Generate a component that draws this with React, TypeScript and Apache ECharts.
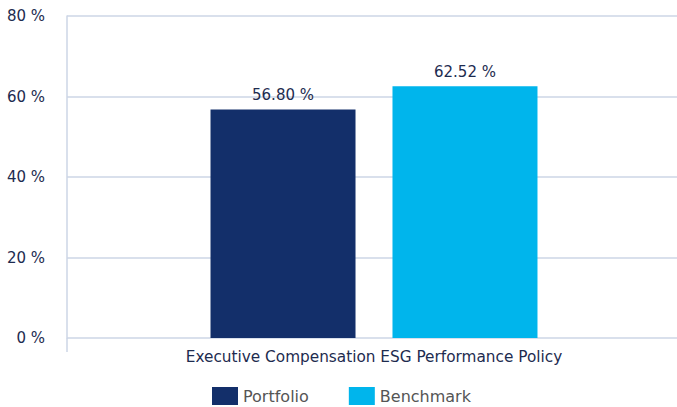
import React, { useEffect, useRef } from "react";
import * as echarts from "echarts";

const categories = ["Executive Compensation ESG Performance Policy"];
const seriesNames = ["Portfolio", "Benchmark"];
const portfolioValues = [56.8];
const benchmarkValues = [62.52];
const yTicks = [0, 20, 40, 60, 80];

const FONT = "'DejaVu Sans', Verdana, sans-serif";

export default function App() {
  const ref = useRef<HTMLDivElement>(null);
  useEffect(() => {
    document.body.style.margin = "0";
    const chart = echarts.init(ref.current!, null, { renderer: "svg" });
    chart.setOption({
      animation: false,
      textStyle: { fontFamily: FONT },
      grid: {
        left: 67,
        width: 614,
        top: 16,
        bottom: 69,
        containLabel: false,
        outerBoundsMode: "none",
      },
      legend: {
        top: 382,
        left: 207,
        itemWidth: 26,
        itemHeight: 18,
        itemGap: 40,
        icon: "rect",
        textStyle: { fontFamily: FONT, fontSize: 16, color: "#555555" },
        data: seriesNames,
      },
      xAxis: {
        type: "category",
        data: categories,
        axisLine: { show: false },
        axisTick: { show: true, length: 14, lineStyle: { color: "#ccd6e6", width: 1.5 } },
        axisLabel: { fontFamily: FONT, fontSize: 15.3, color: "#1d2b4f", margin: 11 },
      },
      yAxis: {
        type: "value",
        min: yTicks[0],
        max: yTicks[yTicks.length - 1],
        interval: 20,
        axisLine: { show: true, lineStyle: { color: "#ccd6e6", width: 1.5 } },
        axisTick: { show: false },
        splitLine: { lineStyle: { color: "#ccd6e6", width: 1.5 } },
        axisLabel: {
          fontFamily: FONT,
          fontSize: 15,
          color: "#1d2b4f",
          margin: 22,
          formatter: (v: number) => `${v} %`,
        },
      },
      series: [
        {
          name: seriesNames[0],
          type: "bar",
          data: portfolioValues,
          barWidth: 145,
          barGap: "25.5%",
          itemStyle: { color: "#132f6a" },
          label: {
            show: true,
            position: "top",
            distance: 7,
            fontFamily: FONT,
            fontSize: 15,
            color: "#1d2b4f",
            formatter: (p: any) => `${p.value.toFixed(2)} %`,
          },
        },
        {
          name: seriesNames[1],
          type: "bar",
          data: benchmarkValues,
          barWidth: 145,
          itemStyle: { color: "#00b5ec" },
          label: {
            show: true,
            position: "top",
            distance: 7,
            fontFamily: FONT,
            fontSize: 15,
            color: "#1d2b4f",
            formatter: (p: any) => `${p.value.toFixed(2)} %`,
          },
        },
      ],
    });
    return () => chart.dispose();
  }, []);
  return <div ref={ref} style={{ width: 677, height: 407 }} />;
}
